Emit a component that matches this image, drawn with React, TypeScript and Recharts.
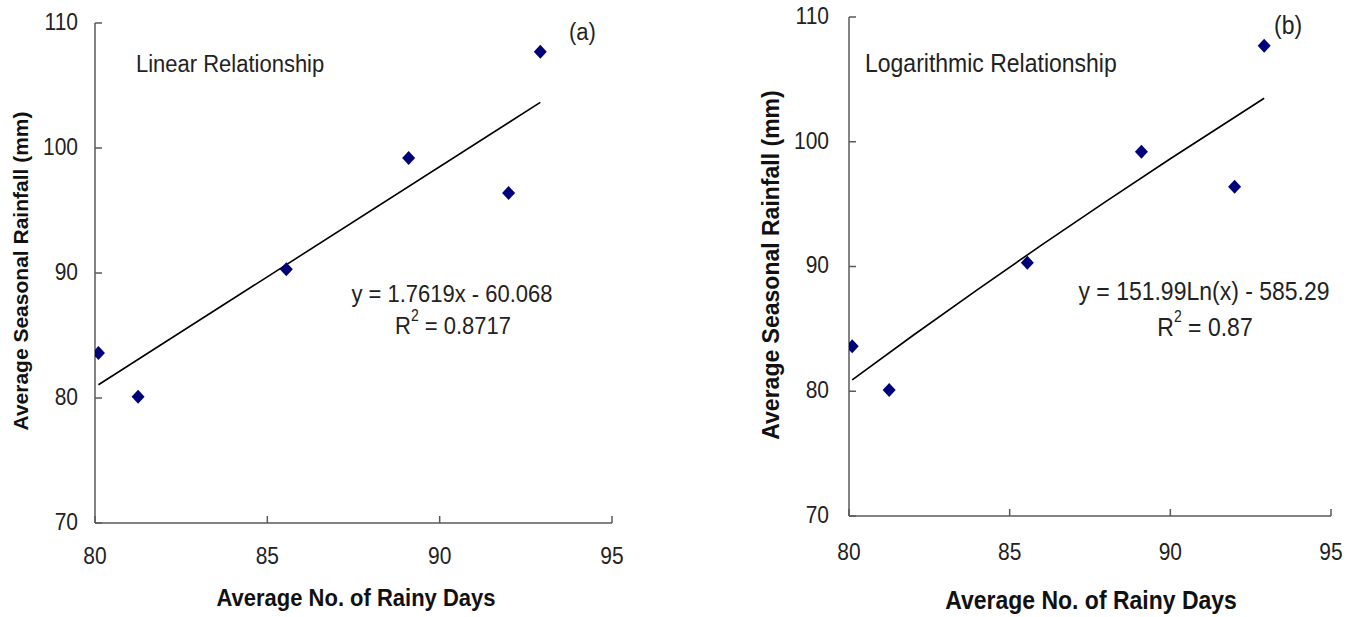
import React from 'react';
import { ScatterChart, Scatter, XAxis, YAxis, Label } from 'recharts';

// observations (same six stations on both panels)
const rainyDays = [80.1, 81.25, 85.55, 89.1, 92.0, 92.92];
const seasonalRain = [83.6, 80.1, 90.3, 99.2, 96.4, 107.7];

// trend lines as drawn on the panels
const linTrendX = [80.1, 92.92];
const linTrendY = [81.06, 103.65];
const logTrendX = [80.1, 82, 84, 86, 88, 90, 92.92];
const logTrendY = [80.92, 84.49, 88.15, 91.73, 95.22, 98.64, 103.49];

const xTicks = [80, 85, 90, 95];
const yTicks = [70, 80, 90, 100, 110];

const points = rainyDays.map((x, i) => ({ x, y: seasonalRain[i] }));
const linTrend = linTrendX.map((x, i) => ({ x, y: linTrendY[i] }));
const logTrend = logTrendX.map((x, i) => ({ x, y: logTrendY[i] }));

const FONT = '"Liberation Sans", Arial, sans-serif';
const AXIS = '#5a5a5a';
const STRETCH = 1.12; // the scanned figure's lettering is a little taller than plain Arial

// text drawn slightly stretched vertically around its anchor point
const SText = ({ x, y, children, ...rest }: any) => (
  <g transform={`translate(${x} ${y}) scale(1 ${STRETCH})`}>
    <text x={0} y={0} dominantBaseline="central" fontFamily={FONT} {...rest}>{children}</text>
  </g>
);

const Diamond = (props: any) => {
  const { cx, cy } = props;
  return (
    <polygon
      points={`${cx},${cy - 7} ${cx + 6.5},${cy} ${cx},${cy + 7} ${cx - 6.5},${cy}`}
      fill="#00007a"
    />
  );
};

const NoShape = () => <g />;

function makeXTick(offset: number, fontSize: number) {
  return (props: any) => {
    const { x, y, payload } = props;
    return (
      <g>
        <line x1={x} x2={x} y1={y} y2={y - 7} stroke={AXIS} strokeWidth={1.5} />
        <SText x={x} y={y + offset} textAnchor="middle" fontSize={fontSize} fill="#222">
          {payload.value}
        </SText>
      </g>
    );
  };
}

function makeYTick(gap: number, fontSize: number) {
  return (props: any) => {
    const { x, y, payload } = props;
    return (
      <g>
        <line x1={x} x2={x + 7} y1={y} y2={y} stroke={AXIS} strokeWidth={1.5} />
        <SText x={x - gap} y={y - 1} textAnchor="end" fontSize={fontSize} fill="#222">
          {payload.value}
        </SText>
      </g>
    );
  };
}

interface PanelProps {
  width: number;
  margin: { top: number; right: number; left: number; bottom: number };
  yAxisWidth: number;
  xAxisHeight: number;
  trend: { x: number; y: number }[];
  tickFont: number;
  xTickOffset: number;
  yTickGap: number;
  xTitle: { x: number; y: number; size: number };
  yTitle: { x: number; y: number; size: number };
}

function Panel(p: PanelProps) {
  return (
    <ScatterChart width={p.width} height={617} margin={p.margin}>
      <XAxis
        type="number"
        dataKey="x"
        domain={[80, 95]}
        ticks={xTicks}
        allowDataOverflow
        height={p.xAxisHeight}
        stroke={AXIS}
        strokeWidth={1.5}
        tickLine={false}
        tickSize={0}
        tickMargin={0}
        tick={makeXTick(p.xTickOffset, p.tickFont)}
      >
        <Label
          content={() => (
            <SText x={p.xTitle.x} y={p.xTitle.y} textAnchor="middle"
              fontWeight="bold" fontSize={p.xTitle.size} fill="#111">
              Average No. of Rainy Days
            </SText>
          )}
        />
      </XAxis>
      <YAxis
        type="number"
        dataKey="y"
        domain={[70, 110]}
        ticks={yTicks}
        allowDataOverflow
        width={p.yAxisWidth}
        stroke={AXIS}
        strokeWidth={1.5}
        tickLine={false}
        tickSize={0}
        tickMargin={0}
        tick={makeYTick(p.yTickGap, p.tickFont)}
      >
        <Label
          content={() => (
            <text x={p.yTitle.x} y={p.yTitle.y} textAnchor="middle" dominantBaseline="central"
              transform={`rotate(-90 ${p.yTitle.x} ${p.yTitle.y})`}
              fontFamily={FONT} fontWeight="bold" fontSize={p.yTitle.size} fill="#111">
              Average Seasonal Rainfall (mm)
            </text>
          )}
        />
      </YAxis>
      <Scatter data={p.trend} line={{ stroke: '#000', strokeWidth: 1.6 }} shape={NoShape}
        isAnimationActive={false} />
      <Scatter data={points} shape={Diamond} isAnimationActive={false} />
    </ScatterChart>
  );
}

export default function App() {
  return (
    <div style={{ position: 'absolute', left: 0, top: 0, width: 1359, height: 617, background: '#fff' }}>
      <div style={{ position: 'absolute', left: 0, top: 0 }}>
        <Panel
          width={680}
          margin={{ top: 23, right: 68, left: 0, bottom: 0 }}
          yAxisWidth={95}
          xAxisHeight={94}
          trend={linTrend}
          tickFont={21}
          xTickOffset={33}
          yTickGap={17}
          xTitle={{ x: 356, y: 598, size: 22 }}
          yTitle={{ x: 20, y: 271, size: 21 }}
        />
      </div>
      <div style={{ position: 'absolute', left: 680, top: 0 }}>
        <Panel
          width={679}
          margin={{ top: 17, right: 28, left: 0, bottom: 0 }}
          yAxisWidth={169}
          xAxisHeight={101}
          trend={logTrend}
          tickFont={21}
          xTickOffset={36}
          yTickGap={20}
          xTitle={{ x: 411, y: 600, size: 23 }}
          yTitle={{ x: 91, y: 265, size: 23 }}
        />
      </div>
      <svg width={1359} height={617} style={{ position: 'absolute', left: 0, top: 0, pointerEvents: 'none' }}>
        <SText x={136} y={64} fontSize={22} fill="#222">Linear Relationship</SText>
        <SText x={569} y={32} fontSize={22} fill="#222">(a)</SText>
        <SText x={452} y={294} textAnchor="middle" fontSize={22} fill="#222">y = 1.7619x - 60.068</SText>
        <SText x={453} y={326} textAnchor="middle" fontSize={22} fill="#222">
          R<tspan dy={-9} fontSize={14}>2</tspan><tspan dy={9}> = 0.8717</tspan>
        </SText>

        <SText x={865} y={63} fontSize={23} fill="#222">Logarithmic Relationship</SText>
        <SText x={1274} y={25} fontSize={23} fill="#222">(b)</SText>
        <SText x={1204} y={291} textAnchor="middle" fontSize={23} fill="#222">y = 151.99Ln(x) - 585.29</SText>
        <SText x={1205} y={327} textAnchor="middle" fontSize={23} fill="#222">
          R<tspan dy={-9} fontSize={14}>2</tspan><tspan dy={9}> = 0.87</tspan>
        </SText>
      </svg>
    </div>
  );
}
